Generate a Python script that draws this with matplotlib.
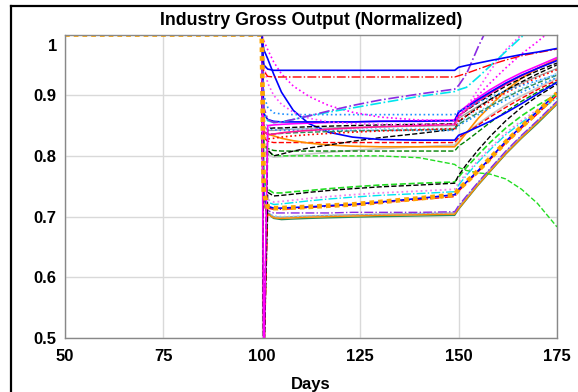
import matplotlib
matplotlib.use("Agg")
import matplotlib.pyplot as plt
from matplotlib.lines import Line2D

plt.rcParams['font.family'] = ['Liberation Sans', 'DejaVu Sans']

days = [50, 100, 100.5, 101.5, 103, 105, 108, 112, 117, 123, 130, 140, 149,
        150, 152, 155, 158, 162, 166, 170, 175]

# ---- upper group ----
blue_top = [1.0, 1.0, 0.95, 0.943, 0.941, 0.941, 0.941, 0.941, 0.941, 0.941, 0.941, 0.941, 0.941,
            0.946, 0.949, 0.953, 0.957, 0.962, 0.967, 0.971, 0.977]
red_dashdot_top = [1.0, 1.0, 0.94, 0.931, 0.930, 0.930, 0.930, 0.930, 0.930, 0.930, 0.930, 0.930, 0.930,
                   0.932, 0.936, 0.943, 0.950, 0.958, 0.965, 0.970, 0.976]
purple_rise = [1.0, 1.0, 0.88, 0.86, 0.855, 0.856, 0.860, 0.866, 0.874, 0.883, 0.892, 0.902, 0.910,
               0.916, 0.935, 0.980, 1.02, 1.06, 1.09, 1.12, 1.15]
cyan_rise = [1.0, 1.0, 0.87, 0.858, 0.855, 0.856, 0.860, 0.866, 0.872, 0.879, 0.887, 0.898, 0.906,
             0.909, 0.913, 0.930, 0.948, 0.972, 0.996, 1.02, 1.05]
magenta_decay = [1.0, 1.0, 0.99, 0.975, 0.955, 0.935, 0.915, 0.898, 0.883, 0.872, 0.864, 0.859, 0.858,
                 0.866, 0.880, 0.900, 0.920, 0.945, 0.968, 0.988, 1.015]
violet_rise = [1.0, 1.0, 0.95, 0.92, 0.90, 0.885, 0.872, 0.862, 0.856, 0.853, 0.852, 0.852, 0.852,
               0.860, 0.880, 0.910, 0.940, 0.975, 1.0, 1.03, 1.06]
dodger_dot = [1.0, 1.0, 0.90, 0.88, 0.871, 0.869, 0.868, 0.868, 0.868, 0.868, 0.868, 0.868, 0.868,
              0.874, 0.879, 0.888, 0.897, 0.907, 0.916, 0.924, 0.934]
blue_mid = [1.0, 1.0, 0.87, 0.86, 0.857, 0.856, 0.856, 0.856, 0.856, 0.856, 0.857, 0.857, 0.858,
            0.872, 0.880, 0.893, 0.905, 0.920, 0.933, 0.944, 0.957]
magenta_mid = [1.0, 1.0, 0.45, 0.85, 0.851, 0.852, 0.853, 0.854, 0.855, 0.856, 0.857, 0.858, 0.859,
               0.872, 0.882, 0.896, 0.909, 0.924, 0.937, 0.948, 0.962]
deeppink_mid = [1.0, 1.0, 0.84, 0.835, 0.836, 0.838, 0.840, 0.842, 0.844, 0.846, 0.848, 0.850, 0.852,
                0.866, 0.876, 0.890, 0.903, 0.918, 0.932, 0.944, 0.958]
black_dash_mid = [1.0, 1.0, 0.45, 0.845, 0.846, 0.846, 0.847, 0.848, 0.849, 0.850, 0.851, 0.852, 0.853,
                  0.866, 0.875, 0.888, 0.900, 0.915, 0.928, 0.940, 0.953]
gray_mid = [1.0, 1.0, 0.85, 0.842, 0.842, 0.843, 0.844, 0.845, 0.846, 0.847, 0.848, 0.849, 0.850,
            0.862, 0.870, 0.882, 0.893, 0.907, 0.920, 0.931, 0.944]
red_dot_mid = [1.0, 1.0, 0.83, 0.828, 0.829, 0.831, 0.833, 0.835, 0.837, 0.839, 0.841, 0.843, 0.845,
               0.858, 0.866, 0.878, 0.890, 0.904, 0.917, 0.929, 0.942]
dkgreen_dash_mid = [1.0, 1.0, 0.84, 0.836, 0.836, 0.837, 0.838, 0.839, 0.840, 0.841, 0.842, 0.843, 0.844,
                    0.852, 0.860, 0.871, 0.882, 0.896, 0.909, 0.920, 0.933]
skyblue_dot_mid = [1.0, 1.0, 0.86, 0.848, 0.846, 0.845, 0.845, 0.845, 0.845, 0.845, 0.845, 0.845, 0.845,
                   0.855, 0.862, 0.873, 0.884, 0.898, 0.911, 0.922, 0.936]
ltblue_dot_mid = [1.0, 1.0, 0.85, 0.845, 0.843, 0.842, 0.842, 0.842, 0.842, 0.842, 0.842, 0.842, 0.842,
                  0.850, 0.857, 0.868, 0.879, 0.892, 0.905, 0.916, 0.929]
blue_decay = [1.0, 1.0, 0.975, 0.96, 0.935, 0.905, 0.875, 0.853, 0.839, 0.831, 0.827, 0.826, 0.826,
              0.834, 0.839, 0.848, 0.857, 0.871, 0.886, 0.902, 0.921]
orange_solid = [1.0, 1.0, 0.84, 0.836, 0.833, 0.829, 0.825, 0.821, 0.818, 0.816, 0.815, 0.815, 0.815,
                0.822, 0.838, 0.862, 0.882, 0.908, 0.928, 0.944, 0.960]
red_dash_low = [1.0, 1.0, 0.83, 0.824, 0.822, 0.822, 0.822, 0.822, 0.822, 0.822, 0.822, 0.822, 0.822,
                0.830, 0.838, 0.851, 0.864, 0.880, 0.895, 0.909, 0.925]
dkgreen_dash_low = [1.0, 1.0, 0.82, 0.812, 0.809, 0.808, 0.808, 0.808, 0.808, 0.808, 0.808, 0.808, 0.808,
                    0.816, 0.825, 0.840, 0.855, 0.873, 0.890, 0.905, 0.922]
black_dash_rise = [1.0, 1.0, 0.45, 0.81, 0.80, 0.803, 0.808, 0.813, 0.818, 0.824, 0.830, 0.837, 0.844,
                   0.856, 0.866, 0.880, 0.893, 0.908, 0.922, 0.935, 0.950]
ltgray_rise = [1.0, 1.0, 0.81, 0.802, 0.798, 0.799, 0.801, 0.803, 0.806, 0.809, 0.812, 0.815, 0.818,
               0.828, 0.838, 0.853, 0.867, 0.884, 0.899, 0.912, 0.928]
lime_decline = [1.0, 1.0, 0.82, 0.808, 0.801, 0.800, 0.800, 0.800, 0.800, 0.800, 0.800, 0.797, 0.786,
                0.781, 0.776, 0.772, 0.770, 0.762, 0.745, 0.722, 0.683]
# ---- lower group ----
lime_dash_low = [1.0, 1.0, 0.76, 0.745, 0.739, 0.739, 0.741, 0.743, 0.746, 0.749, 0.752, 0.755, 0.757,
                 0.765, 0.781, 0.802, 0.822, 0.846, 0.866, 0.883, 0.902]
black_dash_low = [1.0, 1.0, 0.45, 0.74, 0.734, 0.735, 0.737, 0.740, 0.743, 0.746, 0.749, 0.752, 0.755,
                  0.768, 0.786, 0.810, 0.832, 0.858, 0.880, 0.898, 0.918]
violet_dot_low = [1.0, 1.0, 0.74, 0.728, 0.724, 0.725, 0.727, 0.730, 0.733, 0.736, 0.739, 0.742, 0.745,
                  0.756, 0.771, 0.793, 0.813, 0.838, 0.858, 0.876, 0.897]
cyan_dashdot_low = [1.0, 1.0, 0.735, 0.724, 0.720, 0.721, 0.723, 0.726, 0.729, 0.732, 0.735, 0.738, 0.741,
                    0.752, 0.768, 0.790, 0.810, 0.835, 0.855, 0.873, 0.895]
blue_low = [1.0, 1.0, 0.73, 0.717, 0.714, 0.714, 0.715, 0.716, 0.718, 0.720, 0.724, 0.730, 0.736,
            0.745, 0.757, 0.776, 0.796, 0.824, 0.849, 0.873, 0.904]
red_low = [1.0, 1.0, 0.45, 0.714, 0.712, 0.712, 0.713, 0.715, 0.717, 0.719, 0.723, 0.728, 0.733,
           0.742, 0.755, 0.774, 0.794, 0.821, 0.846, 0.869, 0.900]
purple_dashdot_low = [1.0, 1.0, 0.72, 0.710, 0.706, 0.706, 0.706, 0.706, 0.706, 0.707, 0.707, 0.707, 0.708,
                      0.718, 0.734, 0.757, 0.779, 0.808, 0.834, 0.858, 0.890]
dkgreen_low = [1.0, 1.0, 0.72, 0.705, 0.697, 0.695, 0.696, 0.697, 0.698, 0.699, 0.700, 0.701, 0.702,
               0.712, 0.728, 0.752, 0.774, 0.803, 0.829, 0.853, 0.885]
orange_thin_low = [1.0, 1.0, 0.72, 0.704, 0.698, 0.697, 0.698, 0.699, 0.700, 0.701, 0.702, 0.703, 0.704,
                   0.713, 0.729, 0.753, 0.775, 0.804, 0.830, 0.855, 0.886]
gray_low = [1.0, 1.0, 0.45, 0.707, 0.700, 0.699, 0.700, 0.701, 0.702, 0.703, 0.704, 0.705, 0.706,
            0.716, 0.732, 0.756, 0.778, 0.807, 0.833, 0.857, 0.889]
skyblue_dot_low = [1.0, 1.0, 0.72, 0.706, 0.701, 0.700, 0.700, 0.701, 0.702, 0.702, 0.703, 0.704, 0.705,
                   0.715, 0.731, 0.755, 0.777, 0.806, 0.832, 0.857, 0.888]
orange_dotted_main = [1.0, 1.0, 0.74, 0.716, 0.714, 0.714, 0.715, 0.716, 0.718, 0.720, 0.724, 0.730, 0.736,
                      0.745, 0.757, 0.776, 0.796, 0.823, 0.848, 0.872, 0.903]

x_ticks = [50, 75, 100, 125, 150, 175]
y_ticks = [0.5, 0.6, 0.7, 0.8, 0.9]
y_tick_labels = ['0.5', '0.6', '0.7', '0.8', '0.9']
title = "Industry Gross Output (Normalized)"
xlabel = "Days"

series = [
    (ltgray_rise, '#C8C8C8', '-', 1.2),
    (gray_mid, '#A0A0A0', '-', 1.0),
    (gray_low, '#A0A0A0', '-', 1.0),
    (skyblue_dot_low, '#87CEFA', ':', 1.2),
    (dkgreen_low, '#2E8B57', '-', 1.0),
    (orange_thin_low, '#FF8C00', '-', 1.0),
    (purple_dashdot_low, '#8A2BE2', '-.', 1.0),
    (cyan_dashdot_low, '#00E5EE', '-.', 1.0),
    (violet_dot_low, '#EE82EE', ':', 1.3),
    (red_low, '#FF0000', '-.', 1.0),
    (blue_low, '#0000FF', '-', 1.2),
    (lime_dash_low, '#22DD22', '--', 1.2),
    (black_dash_low, '#000000', '--', 1.0),
    (lime_decline, '#22DD22', '--', 1.0),
    (dkgreen_dash_low, '#008000', '--', 1.0),
    (red_dash_low, '#FF0000', '--', 1.0),
    (orange_solid, '#FF8C00', '-', 1.2),
    (black_dash_rise, '#000000', '--', 1.0),
    (blue_decay, '#0000FF', '-', 1.2),
    (ltblue_dot_mid, '#1E90FF', ':', 1.2),
    (skyblue_dot_mid, '#87CEFA', ':', 1.2),
    (dkgreen_dash_mid, '#2E8B57', '--', 1.0),
    (red_dot_mid, '#FF0000', ':', 1.2),
    (black_dash_mid, '#000000', '--', 1.0),
    (deeppink_mid, '#FF1493', '-', 1.2),
    (magenta_mid, '#FF00FF', '-', 1.2),
    (blue_mid, '#0000FF', '-', 1.2),
    (dodger_dot, '#1E90FF', ':', 1.2),
    (violet_rise, '#FF44FF', ':', 1.2),
    (magenta_decay, '#FF00FF', ':', 1.2),
    (cyan_rise, '#00E5EE', '-.', 1.2),
    (purple_rise, '#8A2BE2', '-.', 1.2),
    (red_dashdot_top, '#FF0000', '-.', 1.0),
    (blue_top, '#0000FF', '-', 1.2),
]

fig = plt.figure(figsize=(5.78, 3.92), dpi=100)
ax = fig.add_axes([65/578, 1 - 338/392, (557-65)/578, (338-34.5)/392])

for vals, col, ls, lw in series:
    ax.plot(days, vals, color=col, linestyle=ls, linewidth=lw)

ax.plot(days, orange_dotted_main, color='#FFA500', linewidth=3.4,
        linestyle=(0, (1, 0.85)), dash_capstyle='butt')

ax.set_xlim(50, 175)
ax.set_ylim(0.5, 1.0)
ax.set_xticks(x_ticks)
ax.set_yticks(y_ticks)
ax.set_yticklabels(y_tick_labels)
ax.grid(True, color='#D9D9D9', linewidth=1.0)
ax.set_axisbelow(True)
for sp in ax.spines.values():
    sp.set_color('#888888')
    sp.set_linewidth(1.0)
ax.tick_params(length=0, labelsize=12)
ax.tick_params(axis='x', pad=8)
ax.tick_params(axis='y', pad=6)
for lab in ax.get_xticklabels() + ax.get_yticklabels():
    lab.set_fontweight('bold')
ax.text(-0.016, 0.985, '1', transform=ax.transAxes, ha='right', va='top',
        fontsize=12, fontweight='bold')
ax.set_title(title, fontsize=12.8, fontweight='bold', pad=7)
ax.set_xlabel(xlabel, fontsize=12, fontweight='bold', labelpad=9)

# outer frame (partially visible)
fig.add_artist(Line2D([11/578, 11/578], [0, 1 - 6/392], color='black', linewidth=1.6,
                      transform=fig.transFigure))
fig.add_artist(Line2D([11/578, 1], [1 - 6/392, 1 - 6/392], color='black', linewidth=1.6,
                      transform=fig.transFigure))

fig.savefig('out.png', dpi=100)
